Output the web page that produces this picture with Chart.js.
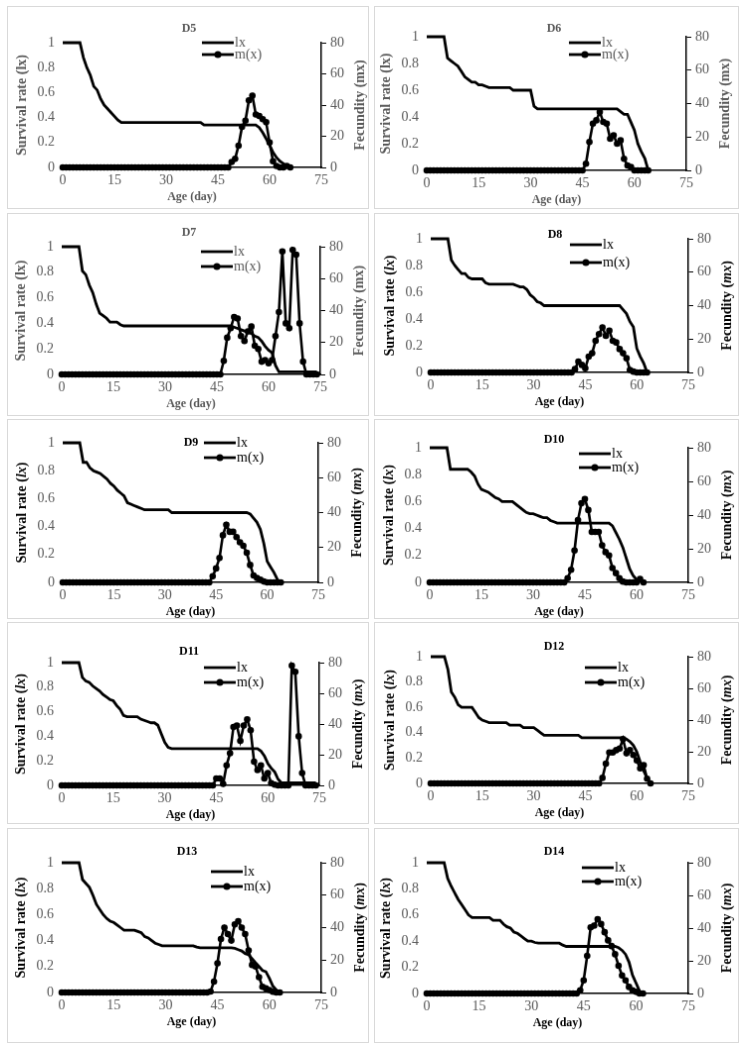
<!DOCTYPE html>
<html>
<head>
<meta charset="utf-8">
<script src="https://cdn.jsdelivr.net/npm/chart.js@4"></script>
<style>
  body { margin: 0; background: #fff; }
  canvas { position: absolute; border: 1px solid #d9d9d9; }
</style>
</head>
<body>
<script>
// ---- data ----
const dayTicks = [0, 15, 30, 45, 60, 75];
const lxTicks = [0, 0.2, 0.4, 0.6, 0.8, 1];
const mxTicks = [0, 20, 40, 60, 80];
const panelNames = ['D5', 'D6', 'D7', 'D8', 'D9', 'D10', 'D11', 'D12', 'D13', 'D14'];

// survival lx, one value per day from day 0
const lxD5 = [1, 1, 1, 1, 1, 1, 0.88, 0.8, 0.74, 0.65,
  0.62, 0.55, 0.5, 0.47, 0.44, 0.41, 0.38, 0.36, 0.36, 0.36,
  0.36, 0.36, 0.36, 0.36, 0.36, 0.36, 0.36, 0.36, 0.36, 0.36,
  0.36, 0.36, 0.36, 0.36, 0.36, 0.36, 0.36, 0.36, 0.36, 0.36,
  0.36, 0.34, 0.34, 0.34, 0.34, 0.34, 0.34, 0.34, 0.34, 0.34,
  0.34, 0.34, 0.34, 0.34, 0.34, 0.34, 0.34, 0.32, 0.28, 0.23,
  0.18, 0.12, 0.08, 0.05, 0.03, 0.01, 0];
const mxD5 = [0, 0, 0, 0, 0, 0, 0, 0, 0, 0,
  0, 0, 0, 0, 0, 0, 0, 0, 0, 0,
  0, 0, 0, 0, 0, 0, 0, 0, 0, 0,
  0, 0, 0, 0, 0, 0, 0, 0, 0, 0,
  0, 0, 0, 0, 0, 0, 0, 0, 0, 3.5,
  5.5, 14, 26, 30, 43, 46, 34, 33, 31, 29,
  16, 4, 1, 0, 0, 1, 0];

const lxD6 = [1, 1, 1, 1, 1, 1, 0.84, 0.82, 0.8, 0.78,
  0.74, 0.7, 0.68, 0.66, 0.66, 0.64, 0.64, 0.63, 0.62, 0.62,
  0.62, 0.62, 0.62, 0.62, 0.62, 0.6, 0.6, 0.6, 0.6, 0.6,
  0.6, 0.48, 0.46, 0.46, 0.46, 0.46, 0.46, 0.46, 0.46, 0.46,
  0.46, 0.46, 0.46, 0.46, 0.46, 0.46, 0.46, 0.46, 0.46, 0.46,
  0.46, 0.46, 0.46, 0.46, 0.46, 0.46, 0.44, 0.42, 0.42, 0.36,
  0.3, 0.2, 0.14, 0.09, 0];
const mxD6 = [0, 0, 0, 0, 0, 0, 0, 0, 0, 0,
  0, 0, 0, 0, 0, 0, 0, 0, 0, 0,
  0, 0, 0, 0, 0, 0, 0, 0, 0, 0,
  0, 0, 0, 0, 0, 0, 0, 0, 0, 0,
  0, 0, 0, 0, 0, 0, 4, 17, 28, 30,
  35, 29, 28, 19, 21, 16, 18, 7, 3, 2,
  0, 0, 0, 0, 0];

const lxD7 = [1, 1, 1, 1, 1, 1, 0.81, 0.78, 0.7, 0.64,
  0.55, 0.48, 0.46, 0.44, 0.41, 0.41, 0.41, 0.39, 0.38, 0.38,
  0.38, 0.38, 0.38, 0.38, 0.38, 0.38, 0.38, 0.38, 0.38, 0.38,
  0.38, 0.38, 0.38, 0.38, 0.38, 0.38, 0.38, 0.38, 0.38, 0.38,
  0.38, 0.38, 0.38, 0.38, 0.38, 0.38, 0.38, 0.38, 0.38, 0.38,
  0.37, 0.36, 0.35, 0.34, 0.33, 0.32, 0.3, 0.29, 0.26, 0.22,
  0.19, 0.17, 0.07, 0.02, 0.02, 0.02, 0.02, 0.02, 0.02, 0.02,
  0.02, 0.02, 0.02, 0.02, 0.02];
const mxD7 = [0, 0, 0, 0, 0, 0, 0, 0, 0, 0,
  0, 0, 0, 0, 0, 0, 0, 0, 0, 0,
  0, 0, 0, 0, 0, 0, 0, 0, 0, 0,
  0, 0, 0, 0, 0, 0, 0, 0, 0, 0,
  0, 0, 0, 0, 0, 0, 0, 8.5, 23, 29,
  36, 35, 24, 21, 27, 30, 18, 16, 8, 9,
  7, 9, 24, 39, 77, 32, 29, 78, 75, 32,
  8, 0, 0, 0, 0];

const lxD8 = [1, 1, 1, 1, 1, 1, 0.84, 0.8, 0.77, 0.74,
  0.74, 0.71, 0.7, 0.7, 0.7, 0.7, 0.67, 0.66, 0.66, 0.66,
  0.66, 0.66, 0.66, 0.66, 0.66, 0.65, 0.64, 0.64, 0.62, 0.58,
  0.56, 0.53, 0.52, 0.5, 0.5, 0.5, 0.5, 0.5, 0.5, 0.5,
  0.5, 0.5, 0.5, 0.5, 0.5, 0.5, 0.5, 0.5, 0.5, 0.5,
  0.5, 0.5, 0.5, 0.5, 0.5, 0.5, 0.47, 0.44, 0.38, 0.34,
  0.18, 0.12, 0.07, 0];
const mxD8 = [0, 0, 0, 0, 0, 0, 0, 0, 0, 0,
  0, 0, 0, 0, 0, 0, 0, 0, 0, 0,
  0, 0, 0, 0, 0, 0, 0, 0, 0, 0,
  0, 0, 0, 0, 0, 0, 0, 0, 0, 0,
  0, 0, 2, 6.5, 4.5, 2.5, 9.5, 11.5, 19, 23,
  27, 22, 25, 19, 18, 14, 11.5, 8.5, 1.5, 0.5,
  0, 0, 0, 0];

const lxD9 = [1, 1, 1, 1, 1, 1, 0.86, 0.86, 0.82, 0.8,
  0.79, 0.78, 0.76, 0.74, 0.71, 0.69, 0.66, 0.64, 0.62, 0.57,
  0.56, 0.55, 0.54, 0.53, 0.52, 0.52, 0.52, 0.52, 0.52, 0.52,
  0.52, 0.52, 0.5, 0.5, 0.5, 0.5, 0.5, 0.5, 0.5, 0.5,
  0.5, 0.5, 0.5, 0.5, 0.5, 0.5, 0.5, 0.5, 0.5, 0.5,
  0.5, 0.5, 0.5, 0.5, 0.5, 0.49, 0.46, 0.43, 0.38, 0.28,
  0.15, 0.11, 0.07, 0.02, 0];
const mxD9 = [0, 0, 0, 0, 0, 0, 0, 0, 0, 0,
  0, 0, 0, 0, 0, 0, 0, 0, 0, 0,
  0, 0, 0, 0, 0, 0, 0, 0, 0, 0,
  0, 0, 0, 0, 0, 0, 0, 0, 0, 0,
  0, 0, 0, 0, 3.5, 8, 14, 27, 33, 29,
  29, 26, 23, 21, 17, 10, 4, 2.5, 1.5, 0.5,
  0, 0, 0, 0, 0];

const lxD10 = [1, 1, 1, 1, 1, 1, 0.84, 0.84, 0.84, 0.84,
  0.84, 0.84, 0.82, 0.79, 0.73, 0.69, 0.68, 0.67, 0.65, 0.63,
  0.62, 0.6, 0.6, 0.6, 0.6, 0.58, 0.56, 0.54, 0.52, 0.51,
  0.51, 0.5, 0.49, 0.48, 0.48, 0.46, 0.45, 0.44, 0.44, 0.44,
  0.44, 0.44, 0.44, 0.44, 0.44, 0.44, 0.44, 0.44, 0.44, 0.44,
  0.44, 0.44, 0.44, 0.42, 0.37, 0.32, 0.26, 0.18, 0.1, 0.05,
  0.02, 0.01, 0];
const mxD10 = [0, 0, 0, 0, 0, 0, 0, 0, 0, 0,
  0, 0, 0, 0, 0, 0, 0, 0, 0, 0,
  0, 0, 0, 0, 0, 0, 0, 0, 0, 0,
  0, 0, 0, 0, 0, 0, 0, 0, 0, 0,
  2.5, 7.5, 19, 37, 47, 49.5, 43, 30, 30, 30,
  22, 18, 16, 8.5, 5.5, 2.5, 0.5, 0, 0, 0,
  0, 2, 0];

const lxD11 = [1, 1, 1, 1, 1, 1, 0.88, 0.85, 0.84, 0.81,
  0.79, 0.77, 0.74, 0.72, 0.7, 0.69, 0.65, 0.62, 0.57, 0.56,
  0.56, 0.56, 0.56, 0.54, 0.53, 0.52, 0.51, 0.51, 0.49, 0.42,
  0.35, 0.31, 0.3, 0.3, 0.3, 0.3, 0.3, 0.3, 0.3, 0.3,
  0.3, 0.3, 0.3, 0.3, 0.3, 0.3, 0.3, 0.3, 0.3, 0.3,
  0.3, 0.3, 0.3, 0.3, 0.3, 0.3, 0.3, 0.3, 0.28, 0.24,
  0.18, 0.14, 0.11, 0.05, 0.02, 0.02, 0.02, 0.02, 0.02, 0.02,
  0.02, 0.02, 0.02, 0.02, 0.02];
const mxD11 = [0, 0, 0, 0, 0, 0, 0, 0, 0, 0,
  0, 0, 0, 0, 0, 0, 0, 0, 0, 0,
  0, 0, 0, 0, 0, 0, 0, 0, 0, 0,
  0, 0, 0, 0, 0, 0, 0, 0, 0, 0,
  0, 0, 0, 0, 0, 4.5, 4.5, 1, 13, 21,
  38, 39, 29, 39, 43, 36, 15.5, 10, 13, 4.5,
  8, 1.5, 0.5, 0, 0, 0, 0, 78, 74, 32,
  8, 0, 0, 0, 0];

const lxD12 = [1, 1, 1, 1, 1, 0.9, 0.72, 0.68, 0.62, 0.6,
  0.6, 0.6, 0.6, 0.56, 0.52, 0.5, 0.49, 0.48, 0.48, 0.48,
  0.48, 0.48, 0.48, 0.46, 0.46, 0.46, 0.46, 0.44, 0.44, 0.44,
  0.44, 0.42, 0.4, 0.38, 0.38, 0.38, 0.38, 0.38, 0.38, 0.38,
  0.38, 0.38, 0.38, 0.38, 0.36, 0.36, 0.36, 0.36, 0.36, 0.36,
  0.36, 0.36, 0.36, 0.36, 0.36, 0.36, 0.36, 0.35, 0.33, 0.3,
  0.25, 0.17, 0.1, 0.04, 0];
const mxD12 = [0, 0, 0, 0, 0, 0, 0, 0, 0, 0,
  0, 0, 0, 0, 0, 0, 0, 0, 0, 0,
  0, 0, 0, 0, 0, 0, 0, 0, 0, 0,
  0, 0, 0, 0, 0, 0, 0, 0, 0, 0,
  0, 0, 0, 0, 0, 0, 0, 0, 0, 0,
  3.5, 12.5, 19.5, 19.5, 21, 22, 28, 19, 21, 18,
  14.5, 9.5, 11.5, 3, 0];

const lxD13 = [1, 1, 1, 1, 1, 1, 0.87, 0.84, 0.81, 0.75,
  0.68, 0.64, 0.6, 0.57, 0.55, 0.54, 0.52, 0.5, 0.48, 0.48,
  0.48, 0.48, 0.47, 0.46, 0.43, 0.42, 0.4, 0.38, 0.37, 0.36,
  0.36, 0.36, 0.36, 0.36, 0.36, 0.36, 0.36, 0.36, 0.36, 0.35,
  0.345, 0.345, 0.345, 0.345, 0.345, 0.345, 0.345, 0.345, 0.345, 0.345,
  0.34, 0.33, 0.32, 0.3, 0.29, 0.26, 0.23, 0.2, 0.17, 0.16,
  0.11, 0.05, 0.02, 0];
const mxD13 = [0, 0, 0, 0, 0, 0, 0, 0, 0, 0,
  0, 0, 0, 0, 0, 0, 0, 0, 0, 0,
  0, 0, 0, 0, 0, 0, 0, 0, 0, 0,
  0, 0, 0, 0, 0, 0, 0, 0, 0, 0,
  0, 0, 0, 0.6, 6.7, 18, 33, 40, 36, 32,
  42, 44, 40, 36, 26, 17, 16, 9.5, 3.5, 2.5,
  1.5, 0.5, 0, 0];

const lxD14 = [1, 1, 1, 1, 1, 1, 0.88, 0.82, 0.77, 0.72,
  0.68, 0.64, 0.6, 0.58, 0.58, 0.58, 0.58, 0.58, 0.58, 0.56,
  0.56, 0.56, 0.53, 0.51, 0.5, 0.47, 0.46, 0.44, 0.42, 0.4,
  0.4, 0.39, 0.385, 0.385, 0.385, 0.385, 0.385, 0.385, 0.385, 0.37,
  0.36, 0.36, 0.36, 0.36, 0.36, 0.36, 0.36, 0.36, 0.36, 0.36,
  0.36, 0.36, 0.36, 0.36, 0.36, 0.35, 0.33, 0.3, 0.24, 0.14,
  0.08, 0.02, 0];
const mxD14 = [0, 0, 0, 0, 0, 0, 0, 0, 0, 0,
  0, 0, 0, 0, 0, 0, 0, 0, 0, 0,
  0, 0, 0, 0, 0, 0, 0, 0, 0, 0,
  0, 0, 0, 0, 0, 0, 0, 0, 0, 0,
  0, 0, 0, 0, 2, 8, 23, 40.5, 41.5, 45.5,
  42.5, 37.5, 32.5, 29, 24, 17, 11, 8, 4, 2,
  1, 0, 0];

const lxSeries = [lxD5, lxD6, lxD7, lxD8, lxD9, lxD10, lxD11, lxD12, lxD13, lxD14];
const mxSeries = [mxD5, mxD6, mxD7, mxD8, mxD9, mxD10, mxD11, mxD12, mxD13, mxD14];

// ---- layout (page pixels) ----
const cols = [[7, 364], [374, 367]];          // left, outer width
const rows = [[6, 205], [213, 205], [419, 202], [622, 204], [828, 217]]; // top, outer height
// plot area: left, top, right, bottom
const plots = [
  [63, 43, 323, 169], [427, 37, 688, 172],
  [62, 247, 322, 376], [431, 239, 690, 374],
  [63, 443, 320, 584], [430, 448, 690, 584],
  [62, 663, 321, 787], [431, 657, 690, 785],
  [62, 863, 323, 994], [427, 863, 690, 995]
];
// title offset from plot left/top
const heads = [[127, -14], [128, -8], [128, -14], [125, -4], [129, 0],
  [125, -8], [128, -11], [124, -10], [126, -11], [128, -11]];
// legend: x offset, row1 y offset, row2 y offset
const keys = [[140, 0, 12], [143, 6, 18], [140, 5, 20], [140, 6, 24], [142, 0, 15],
  [150, 6, 20], [143, 5, 20], [155, 11, 26], [150, 9, 24], [156, 5, 19]];

const serif = '"Liberation Serif", "Times New Roman", serif';
Chart.defaults.font.family = serif;

// vertical title made of plain and italic pieces
function sideTitle(ctx, parts, cx, cy, ink) {
  ctx.save();
  ctx.translate(cx, cy);
  ctx.rotate(-Math.PI / 2);
  ctx.fillStyle = ink;
  ctx.textAlign = 'left';
  ctx.textBaseline = 'middle';
  const fontOf = p => (p[1] ? 'italic ' : '') + 'bold 14px ' + serif;
  let total = 0;
  const widths = parts.map(p => {
    ctx.font = fontOf(p);
    const w = ctx.measureText(p[0]).width;
    total += w;
    return w;
  });
  let x = -total / 2;
  parts.forEach((p, i) => {
    ctx.font = fontOf(p);
    ctx.fillText(p[0], x, 0);
    x += widths[i];
  });
  ctx.restore();
}

const deco = {
  id: 'deco',
  afterDraw(chart, args, o) {
    const ctx = chart.ctx, a = chart.chartArea;
    ctx.save();
    // panel title
    ctx.fillStyle = o.ink;
    ctx.font = 'bold 12px ' + serif;
    ctx.textAlign = 'center';
    ctx.textBaseline = 'middle';
    ctx.fillText(o.name, a.left + o.head[0], a.top + o.head[1]);

    // x axis title
    ctx.font = 'bold 12px ' + serif;
    ctx.fillText('Age (day)', (a.left + a.right) / 2, a.bottom + 30);

    // legend
    const x0 = a.left + o.key[0], len = 32;
    const ds = chart.data.datasets;
    [[o.key[1], ds[1].label, false], [o.key[2], ds[0].label, true]].forEach(([dy, label, dot]) => {
      const y = a.top + dy;
      ctx.strokeStyle = '#000';
      ctx.lineWidth = 2.8;
      ctx.beginPath();
      ctx.moveTo(x0, y);
      ctx.lineTo(x0 + len, y);
      ctx.stroke();
      if (dot) {
        ctx.fillStyle = '#000';
        ctx.beginPath();
        ctx.arc(x0 + len / 2, y, 3.5, 0, Math.PI * 2);
        ctx.fill();
      }
      ctx.fillStyle = o.ink;
      ctx.font = '14px ' + serif;
      ctx.textAlign = 'left';
      ctx.fillText(label, x0 + len + 1, y);
    });
    ctx.restore();

    sideTitle(ctx, [['Survival rate (', false], ['lx', o.italic], [')', false]],
      a.left - 41, (a.top + a.bottom) / 2, o.ink);
    sideTitle(ctx, [['Fecundity (', false], ['mx', o.italic], [')', false]],
      a.right + 39, (a.top + a.bottom) / 2, o.ink);
  }
};

panelNames.forEach((name, i) => {
  const col = cols[i % 2], row = rows[Math.floor(i / 2)];
  const iw = col[1] - 2, ih = row[1] - 2;
  const ox = col[0] + 1, oy = row[0] + 1;
  const p = plots[i];
  const dark = i >= 3;
  const ink = dark ? '#000000' : '#595959';

  const cv = document.createElement('canvas');
  cv.width = iw;
  cv.height = ih;
  cv.style.left = col[0] + 'px';
  cv.style.top = row[0] + 'px';
  cv.style.width = iw + 'px';
  cv.style.height = ih + 'px';
  document.body.appendChild(cv);

  const tickFont = { size: 14 };
  const plain = v => String(v);
  new Chart(cv, {
    type: 'line',
    data: {
      datasets: [{
        label: 'm(x)',
        data: mxSeries[i].map((v, d) => ({ x: d, y: v })),
        yAxisID: 'y1',
        borderColor: '#000',
        borderWidth: 2.6,
        pointRadius: 3.3,
        pointBackgroundColor: '#000',
        pointBorderColor: '#000',
        pointBorderWidth: 0,
        clip: false,
        order: 0
      }, {
        label: 'lx',
        data: lxSeries[i].map((v, d) => ({ x: d, y: v })),
        yAxisID: 'y',
        borderColor: '#000',
        borderWidth: 2.8,
        pointRadius: 0,
        clip: false,
        order: 1
      }]
    },
    options: {
      responsive: false,
      animation: false,
      devicePixelRatio: 1,
      layout: { padding: { top: p[1] - oy, left: 0, right: 0, bottom: 0 }, autoPadding: false },
      plugins: {
        legend: { display: false },
        tooltip: { enabled: false },
        deco: { name: name, head: heads[i], key: keys[i], ink: ink, italic: dark }
      },
      scales: {
        x: {
          type: 'linear', min: 0, max: 75,
          afterBuildTicks: s => { s.ticks = dayTicks.map(v => ({ value: v })); },
          afterFit: s => { s.height = oy + ih - p[3]; },
          grid: { display: false, drawTicks: false },
          border: { display: true, color: '#000', width: 1.5 },
          ticks: { color: '#595959', font: tickFont, padding: 5, maxRotation: 0, callback: plain }
        },
        y: {
          position: 'left', min: 0, max: 1,
          afterBuildTicks: s => { s.ticks = lxTicks.map(v => ({ value: v })); },
          afterFit: s => { s.width = p[0] - ox; },
          grid: { display: false, drawTicks: false },
          border: { display: false },
          ticks: { color: '#595959', font: tickFont, padding: 8, callback: plain }
        },
        y1: {
          position: 'right', min: 0, max: 80,
          afterBuildTicks: s => { s.ticks = mxTicks.map(v => ({ value: v })); },
          afterFit: s => { s.width = ox + iw - p[2]; },
          grid: { display: true, drawOnChartArea: false, drawTicks: true, tickLength: 5, color: '#000', lineWidth: 1 },
          border: { display: true, color: '#000', width: 1.5 },
          ticks: { color: '#595959', font: tickFont, padding: 4, callback: plain }
        }
      }
    },
    plugins: [deco]
  });
});
</script>
</body>
</html>
